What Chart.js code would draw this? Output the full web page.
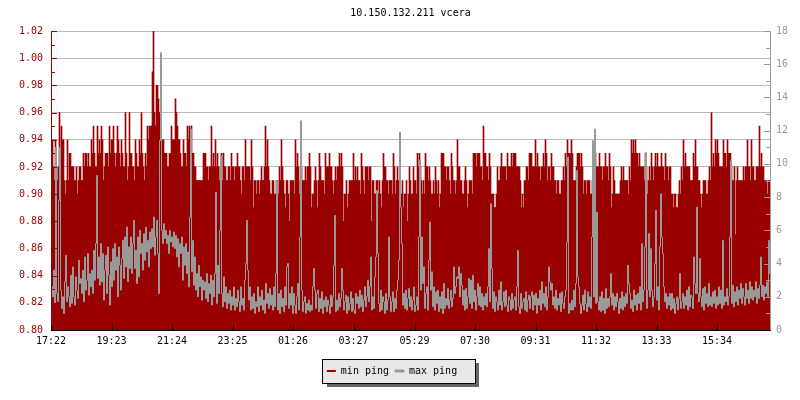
<!DOCTYPE html>
<html><head><meta charset="utf-8">
<style>html,body{margin:0;padding:0;background:#fff}#w{width:800px;height:400px}</style>
<script src="https://cdn.jsdelivr.net/npm/chart.js@4"></script>
</head><body><div id="w"><canvas id="c" width="800" height="400"></canvas></div>
<script>
const titleText = '10.150.132.211 vcera';
const tickMinutes = [0,121,242,363,484,605,727,848,969,1090,1211,1332];
const tickLabels = ['17:22','19:23','21:24','23:25','01:26','03:27','05:29','07:30','09:31','11:32','13:33','15:34'];
const minPing = [
.94,.94,.92,.91,.94,.92,.91,.92,.96,.93,.95,.94,.94,.91,.90,.91,.94,.91,.93,.93,
.92,.92,.92,.91,.91,.92,.90,.91,.92,.92,.91,.91,.93,.92,.93,.93,.92,.93,.92,.92,
.94,.93,.95,.93,.92,.92,.95,.93,.94,.93,.95,.94,.91,.92,.93,.93,.93,.92,.95,.93,
.94,.94,.95,.93,.92,.93,.95,.94,.93,.92,.94,.93,.92,.92,.96,.93,.91,.92,.96,.93,
.93,.92,.92,.91,.94,.93,.92,.92,.94,.93,.96,.93,.92,.91,.93,.92,.95,.94,.95,.95,
.95,.99,1.02,.96,.95,.98,.98,.97,.96,.95,.94,.94,.94,.93,.93,.93,.92,.92,.93,.93,
.95,.94,.94,.94,.97,.96,.95,.94,.94,.93,.92,.92,.94,.93,.93,.92,.95,.94,.95,.94,
.95,.93,.93,.92,.92,.91,.91,.91,.91,.91,.91,.91,.93,.93,.93,.92,.92,.91,.92,.92,
.95,.92,.93,.92,.94,.92,.93,.92,.91,.92,.93,.91,.93,.92,.92,.91,.91,.92,.92,.91,
.93,.92,.92,.91,.92,.92,.93,.92,.92,.91,.90,.92,.92,.91,.94,.92,.92,.92,.92,.91,
.94,.92,.89,.91,.91,.90,.91,.91,.90,.91,.92,.91,.91,.92,.95,.92,.94,.92,.91,.90,
.90,.91,.91,.90,.90,.91,.91,.90,.92,.91,.94,.92,.91,.90,.89,.91,.91,.90,.88,.91,
.91,.91,.91,.90,.94,.92,.93,.92,.90,.91,.92,.91,.91,.91,.92,.91,.92,.92,.93,.92,
.89,.90,.90,.91,.92,.91,.89,.91,.93,.92,.91,.91,.91,.90,.93,.92,.92,.92,.93,.92,
.92,.91,.90,.91,.92,.91,.92,.92,.93,.92,.93,.92,.88,.90,.90,.91,.89,.90,.91,.91,
.91,.91,.93,.91,.92,.91,.92,.91,.91,.90,.93,.92,.91,.90,.92,.92,.92,.91,.92,.92,
.88,.91,.91,.90,.90,.91,.91,.90,.91,.90,.89,.91,.93,.92,.92,.91,.91,.90,.91,.91,
.91,.90,.93,.92,.90,.91,.92,.91,.91,.90,.90,.91,.89,.90,.90,.91,.88,.90,.92,.91,
.90,.90,.92,.91,.91,.90,.93,.92,.93,.92,.91,.90,.91,.90,.93,.92,.92,.91,.92,.91,
.90,.90,.91,.90,.92,.91,.90,.91,.89,.90,.93,.93,.93,.92,.92,.91,.92,.92,.91,.90,
.93,.92,.91,.91,.90,.91,.94,.92,.92,.91,.91,.90,.90,.91,.92,.91,.89,.90,.91,.91,
.91,.90,.93,.93,.93,.92,.93,.93,.93,.92,.92,.91,.95,.93,.93,.92,.92,.91,.93,.92,
.90,.90,.90,.89,.89,.90,.92,.91,.91,.92,.93,.92,.92,.92,.92,.91,.93,.92,.92,.92,
.93,.92,.93,.93,.93,.92,.92,.92,.92,.91,.89,.90,.89,.91,.91,.92,.92,.91,.93,.93,
.93,.92,.92,.92,.94,.92,.93,.92,.92,.91,.92,.92,.93,.92,.94,.93,.91,.92,.92,.91,
.93,.92,.92,.91,.91,.90,.91,.91,.90,.90,.91,.91,.92,.91,.93,.92,.94,.93,.93,.93,
.94,.93,.91,.91,.91,.92,.93,.93,.93,.92,.93,.92,.90,.91,.91,.90,.91,.91,.91,.90,
.90,.91,.91,.91,.93,.92,.92,.92,.93,.92,.92,.91,.92,.92,.93,.92,.92,.91,.93,.92,
.89,.90,.92,.91,.90,.90,.90,.90,.90,.91,.92,.91,.92,.91,.91,.91,.91,.90,.92,.91,
.94,.93,.94,.93,.94,.93,.93,.92,.93,.92,.92,.92,.92,.91,.93,.92,.90,.91,.92,.91,
.93,.92,.91,.92,.93,.92,.93,.92,.92,.92,.93,.92,.92,.91,.93,.92,.92,.91,.92,.92,
.90,.90,.89,.90,.90,.89,.89,.90,.91,.90,.92,.91,.94,.92,.93,.92,.92,.92,.92,.91,
.91,.91,.93,.92,.94,.92,.92,.91,.91,.90,.89,.90,.91,.91,.91,.90,.90,.91,.92,.91,
.96,.92,.93,.92,.94,.93,.94,.93,.92,.92,.92,.92,.94,.93,.93,.92,.94,.93,.93,.93,
.92,.91,.91,.92,.87,.91,.92,.91,.91,.91,.91,.91,.92,.91,.92,.92,.94,.92,.92,.91,
.94,.92,.92,.91,.91,.92,.92,.92,.95,.92,.93,.92,.92,.91,.91,.91,.90,.91,.91,.91
];
const maxPing = [
2.6,2.0,3.6,1.6,11.0,2.2,1.7,7.8,11.0,2.4,1.3,2.0,1.0,2.9,4.5,1.7,2.6,2.0,1.4,3.3,
1.6,3.8,2.0,1.5,3.2,2.4,1.9,4.2,2.8,3.1,2.2,3.6,1.7,4.4,2.4,3.0,4.6,2.1,3.4,2.6,
3.6,2.2,4.8,3.0,5.2,9.3,3.1,4.4,2.7,5.2,2.9,4.6,1.8,3.6,4.5,2.2,5.0,3.3,1.5,4.1,
2.6,4.9,3.0,5.2,3.6,4.4,2.0,5.0,3.9,2.4,4.3,5.4,3.1,5.6,3.8,6.2,2.9,5.0,3.7,5.6,
3.4,5.2,6.6,3.7,4.8,2.8,5.6,3.2,6.0,4.6,5.2,3.6,5.8,4.2,6.2,4.7,5.4,3.8,5.9,4.9,
6.1,5.0,6.8,4.5,5.6,6.6,4.6,2.2,11.4,16.7,6.0,5.2,6.4,5.5,6.0,5.2,5.7,4.6,6.0,5.3,
5.6,5.0,5.9,4.9,5.7,4.4,5.5,3.8,5.2,4.6,5.6,3.0,5.0,3.9,5.2,3.4,4.7,2.6,6.8,12.1,
3.5,5.4,2.7,4.4,2.4,3.4,2.0,3.9,2.6,3.2,1.8,3.0,2.4,2.9,1.9,3.4,1.7,2.8,2.2,3.3,
1.5,3.0,2.0,3.4,8.3,1.6,3.9,2.2,6.0,10.5,2.2,1.4,3.2,1.7,2.6,1.3,2.2,1.6,2.4,1.2,
2.0,1.5,2.6,1.2,1.9,1.4,2.4,1.7,1.1,2.6,1.5,1.9,1.2,3.0,4.0,6.6,3.6,1.8,2.6,1.2,
2.0,1.3,2.2,1.0,1.7,1.4,2.6,1.1,2.0,1.5,2.4,1.2,1.8,1.0,2.8,1.6,2.2,1.3,2.5,1.5,
2.1,1.2,2.6,1.4,3.4,9.0,1.2,2.2,1.0,2.4,1.4,1.9,1.1,2.6,1.5,3.8,4.0,1.3,2.2,1.5,
2.6,1.0,2.2,1.5,1.0,2.0,2.8,1.2,5.6,12.6,2.4,1.1,1.7,2.0,1.0,1.6,1.2,1.8,1.1,1.5,
1.2,2.6,3.7,2.4,1.3,2.2,2.4,1.1,1.9,1.3,2.3,1.0,1.8,1.4,2.0,1.1,1.8,1.5,1.0,2.1,
1.4,2.0,3.9,6.9,1.1,1.8,1.2,2.2,1.4,1.9,3.7,2.4,1.2,1.7,2.1,1.0,2.0,1.2,1.6,2.3,
1.1,1.9,1.2,1.0,2.2,1.6,2.0,1.3,2.4,1.4,2.1,1.1,1.8,2.6,1.4,2.0,3.0,1.7,2.6,4.4,
1.2,2.0,1.3,3.2,4.4,8.4,4.6,1.6,1.1,2.4,1.2,2.0,1.7,1.0,2.2,1.2,1.8,5.6,2.0,1.1,
1.7,2.3,1.1,1.9,1.3,2.4,3.0,4.2,11.9,7.4,5.2,1.5,2.2,1.3,2.4,1.2,1.9,2.5,1.4,2.0,
1.2,1.8,2.6,1.1,1.5,2.0,1.2,5.6,10.2,2.4,5.6,2.8,3.8,1.3,2.2,2.6,1.2,4.2,6.5,2.4,
3.5,1.4,2.6,1.2,2.3,1.6,2.4,1.1,2.0,1.3,2.3,1.0,2.8,1.3,1.9,1.5,2.5,1.3,1.8,2.4,
1.4,1.9,3.8,2.2,2.6,3.2,3.1,3.8,2.0,3.4,2.7,1.5,2.4,1.2,2.5,1.3,2.0,3.1,1.6,3.0,
1.3,3.3,1.7,2.4,1.2,2.0,2.8,1.5,2.6,1.4,2.2,1.2,2.0,1.5,2.2,1.4,2.6,4.9,1.7,7.6,
3.7,1.3,2.3,1.1,2.0,1.7,1.2,2.4,1.5,2.9,1.2,1.7,2.3,1.4,2.4,1.5,1.1,2.0,1.8,1.2,
2.2,1.3,1.8,2.0,1.2,2.6,4.8,1.4,1.0,2.2,1.3,1.7,1.9,1.2,2.3,1.1,1.8,2.1,1.3,2.0,
2.3,1.2,2.1,1.5,2.2,1.0,1.9,1.5,2.4,1.2,2.9,1.6,2.2,1.4,2.6,1.2,2.0,3.8,2.9,2.4,
2.8,1.5,2.0,1.3,2.4,1.2,1.9,1.5,2.2,1.1,2.3,1.6,1.3,2.0,2.4,5.3,10.4,1.0,1.6,1.2,
1.8,1.2,2.4,1.4,2.8,9.6,3.2,2.6,1.6,1.0,1.5,2.1,1.2,2.4,1.6,1.1,2.3,1.4,2.0,1.3,
5.6,11.4,2.0,12.1,1.6,7.1,1.7,1.2,2.0,1.1,2.3,1.2,1.9,1.0,2.5,1.3,1.9,1.4,2.0,3.4,
1.5,2.2,1.2,2.0,1.4,2.2,1.7,1.0,1.9,1.3,2.3,1.2,2.0,1.4,2.2,1.6,3.9,2.8,2.2,1.3,
1.8,1.1,2.4,1.5,2.1,1.2,2.2,1.6,2.6,1.2,5.2,1.7,2.4,5.0,10.7,1.3,2.4,5.8,2.0,4.9,
2.4,1.4,2.0,4.0,7.2,1.8,2.6,1.2,5.0,8.2,5.6,4.6,2.6,1.7,2.2,1.3,2.0,1.5,2.2,1.2,
2.2,1.3,1.9,1.0,1.6,2.0,1.2,1.9,3.4,1.3,1.7,2.2,1.3,2.0,1.5,2.4,1.2,2.6,1.4,2.1,
2.0,1.3,4.4,2.8,2.2,7.4,2.2,1.7,4.3,2.0,1.4,2.5,1.2,2.6,1.6,2.2,1.4,2.8,1.5,2.0,
1.4,2.3,1.6,2.4,1.3,2.0,1.5,2.6,1.6,2.4,1.3,5.4,1.5,2.0,1.7,2.5,1.5,2.0,5.6,10.2,
1.6,2.7,1.4,2.3,1.7,2.6,1.5,2.4,1.9,2.8,1.6,2.5,2.0,1.5,2.8,1.9,2.4,1.6,2.9,1.9,
2.6,1.8,2.4,2.0,2.9,1.6,2.5,1.9,2.7,4.4,2.0,2.7,1.8,2.6,2.2,2.9,2.0,5.4,3.4,2.6
];
const RED = '#990000', GRAY = '#999999';
const hund = v => Math.round(v * 100);

const frame = {
  id: 'frame',
  beforeDraw(chart) {
    const c = chart.ctx;
    if (!chart.$moved) { chart.legend.left -= 8; chart.legend.right -= 8; chart.$moved = true; }
    c.save();
    c.fillStyle = '#fff'; c.fillRect(0, 0, 800, 400);
    c.fillStyle = '#666'; c.fillRect(327, 363, 152, 24);
    c.fillStyle = '#e8e8e8'; c.fillRect(323, 359, 152, 24);
    c.strokeStyle = '#000'; c.lineWidth = 1; c.strokeRect(322.5, 359.5, 153, 24);
    c.restore();
  },
  afterDatasetsDraw(chart) {
    const c = chart.ctx, a = chart.chartArea, s = chart.scales;
    c.save();
    c.fillStyle = RED;
    c.fillRect(a.left, a.top, 1, a.bottom - a.top + 1);
    s.y.ticks.forEach(t => c.fillRect(a.left, Math.round(s.y.getPixelForValue(t.value)), hund(t.value) % 2 ? 4 : 6, 1));
    c.fillStyle = GRAY;
    c.fillRect(a.right, a.top, 1, a.bottom - a.top + 1);
    s.y1.ticks.forEach(t => { const l = t.value % 2 ? 4 : 6; c.fillRect(a.right - l, Math.round(s.y1.getPixelForValue(t.value)), l, 1); });
    c.fillStyle = '#000';
    c.fillRect(a.left, a.bottom, a.right - a.left + 1, 1);
    tickMinutes.forEach(m => c.fillRect(Math.round(s.x.getPixelForValue(m)), a.bottom - 5, 1, 5));
    c.restore();
  }
};

new Chart(document.getElementById('c'), {
  type: 'bar',
  plugins: [frame],
  data: { datasets: [
    { type: 'bar', label: 'min ping', order: 2, yAxisID: 'y', backgroundColor: RED, borderWidth: 0, barThickness: 1,
      data: minPing.map((v, i) => ({ x: i * 2 + 1, y: v })) },
    { type: 'line', label: 'max ping', order: 1, yAxisID: 'y1', borderColor: GRAY, backgroundColor: GRAY, borderWidth: 1,
      pointRadius: 0, tension: 0, stepped: true, data: maxPing.map((v, i) => ({ x: i * 2 + 1, y: v })) }
  ]},
  options: {
    responsive: false, animation: false, devicePixelRatio: 1,
    layout: { padding: { left: 0, right: 0, top: 0, bottom: 14 } },
    plugins: {
      tooltip: { enabled: false },
      title: { display: true, fullSize: false, text: titleText, color: '#000', font: { family: 'DejaVu Sans Mono', size: 10, weight: 'normal' }, padding: { top: 7, bottom: 12 } },
      legend: { position: 'bottom', labels: { color: '#000', font: { family: 'DejaVu Sans Mono', size: 10 }, boxWidth: 9, boxHeight: 2, padding: 6, sort: (a, b) => a.datasetIndex - b.datasetIndex } }
    },
    scales: {
      x: { type: 'linear', min: 0, max: 1438, offset: false,
        afterBuildTicks: s => { s.ticks = tickMinutes.map(v => ({ value: v })); },
        afterFit: s => { s.height = 30; },
        grid: { display: false, drawTicks: false }, border: { display: false },
        ticks: { autoSkip: false, maxRotation: 0, color: '#000', padding: 5, font: { family: 'DejaVu Sans Mono', size: 10 },
          callback: (v, i) => tickLabels[i] } },
      y: { position: 'left', min: 0.8, max: 1.02,
        afterFit: s => { s.width = 51; },
        grid: { drawTicks: false, lineWidth: 1, color: c => hund(c.tick.value) % 2 ? 'rgba(0,0,0,0)' : '#bbbbbb' },
        border: { display: false },
        ticks: { stepSize: 0.01, autoSkip: false, color: RED, padding: 8, font: { family: 'DejaVu Sans Mono', size: 10 },
          callback: v => hund(v) % 2 ? '' : v.toFixed(2) } },
      y1: { position: 'right', min: 0, max: 18,
        afterFit: s => { s.width = 30; },
        grid: { display: false, drawTicks: false, drawOnChartArea: false }, border: { display: false },
        ticks: { stepSize: 1, autoSkip: false, color: GRAY, padding: 6, font: { family: 'DejaVu Sans Mono', size: 10 },
          callback: v => v % 2 ? '' : String(v) } }
    }
  }
});
</script></body></html>
